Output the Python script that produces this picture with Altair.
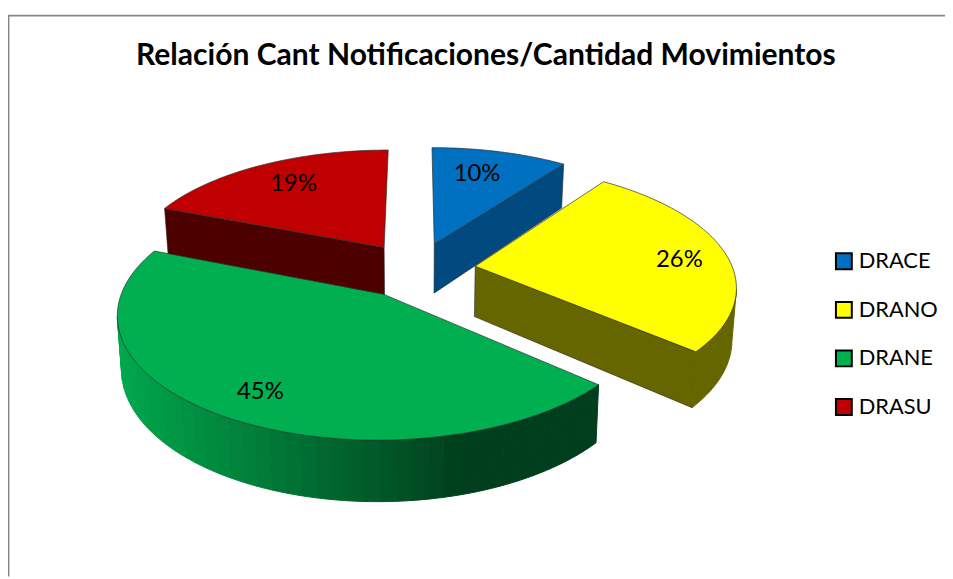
import math
import altair as alt

TITLE = "Relación Cant Notificaciones/Cantidad Movimientos"
names = ["DRACE", "DRANO", "DRANE", "DRASU"]
shares = [10.0, 26.45, 44.55, 19.0]
top_colors = ["#0070C0", "#FFFF00", "#00B050", "#C00000"]
wall_colors = ["#004A80", "#666600", "#00401F", "#4D0000"]
explode = [0.23, 0.23, 0.24, 0.23]
slice_radius = [1.0, 1.0, 0.985, 1.0]
label_radius = [0.73, 0.805, 0.80, 0.74]
label_turn = [-2.4, 2.6, -1.5, 1]
draw_order = [3, 0, 1, 2]

# 3-D pie model (unit circle on a tilted plane, with perspective)
R, S, C, DEPTH, TILT = 260.0, 119.0, 0.15, 51.0, 0.014
CX, CY = 412.0, 261.0
PROJ = dict(type="identity", scale=R, translate=[CX, CY])


def project(u, v, z=0.0):
    w = 1 - C * v
    return [u / w * (1 - TILT * z), (S / R) * v / w + z * (DEPTH / R) / w]


def polar(t, r=1.0):
    a = math.radians(t)
    return r * math.sin(a), -r * math.cos(a)


def feature(ring, **props):
    return {"type": "Feature", "properties": props,
            "geometry": {"type": "Polygon", "coordinates": [ring + [ring[0]]]}}


def shade(hex_color, f):
    rgb = [int(hex_color[i:i + 2], 16) for i in (1, 3, 5)]
    return "#%02x%02x%02x" % tuple(round(c * f) for c in rgb)


def green_wall(x):
    p = min(1.0, max(0.0, (x * R + CX + 8 - 120) / 340))
    return shade("#00B050", 0.95 - 0.59 * p)


bounds = []
acc = 0.0
total = sum(shares)
for s in shares:
    bounds.append((acc / total * 360, (acc + s) / total * 360))
    acc += s

layers = []
text_rows = []
for i in draw_order:
    t0, t1 = bounds[i]
    mid = (t0 + t1) / 2
    ox, oy = polar(mid, explode[i])
    rad = slice_radius[i]
    point = lambda t, z=0.0: project(ox + polar(t, rad)[0], oy + polar(t, rad)[1], z)
    apex, apex_b = project(ox, oy), project(ox, oy, 1)
    steps = max(4, int((t1 - t0) / 1.5))
    angles = [t0 + (t1 - t0) * k / steps for k in range(steps + 1)]
    walls = []
    inner = project(ox + polar(mid, .5)[0], oy + polar(mid, .5)[1])
    for edge in (t0, t1):
        b = point(edge)
        dx, dy = b[0] - apex[0], b[1] - apex[1]
        side = dx * (inner[1] - apex[1]) - dy * (inner[0] - apex[0])
        if abs(dx) > 0.03 and side * dx < 0:
            walls.append(feature([apex, b, point(edge, 1), apex_b],
                                 fill=wall_colors[i], line="#2b2b2b", sw=0.6))
    visible = [a for a in angles[:-1] if point(a + (t1 - t0) / steps)[0] < point(a)[0]]
    band = 2 if names[i] == "DRANE" else len(visible)
    for k in range(0, len(visible), max(band, 1)):
        run = visible[k:k + band + 1]
        if k + band >= len(visible):
            run = visible[k:] + [visible[-1] + (t1 - t0) / steps]
        if len(run) < 2:
            continue
        top = [point(a) for a in run]
        bot = [point(a, 1) for a in reversed(run)]
        xm = sum(p[0] for p in top) / len(top)
        col = green_wall(xm) if names[i] == "DRANE" else wall_colors[i]
        walls.append(feature(top + bot, fill=col, line=col, sw=1.0))
    if walls:
        layers.append(
            alt.Chart(alt.Data(values=walls)).mark_geoshape().encode(
                fill=alt.Fill("properties.fill:N", scale=None),
                stroke=alt.Stroke("properties.line:N", scale=None),
                strokeWidth=alt.StrokeWidth("properties.sw:Q", scale=None),
            ).project(**PROJ)
        )
    ring = [apex] + [point(a) for a in angles]
    layers.append(
        alt.Chart(alt.Data(values=[feature(ring, name=names[i])])).mark_geoshape(
            stroke="#303030", strokeWidth=0.7
        ).encode(
            color=alt.Color(
                "properties.name:N",
                scale=alt.Scale(domain=names, range=top_colors),
                legend=alt.Legend(
                    title=None, orient="none", legendX=832, legendY=242,
                    symbolType="square", symbolSize=256,
                    symbolStrokeColor="#000000", symbolStrokeWidth=2,
                    labelFont="Lato", labelFontSize=22, labelColor="#000000",
                    labelOffset=4, rowPadding=25, labelLimit=200,
                ),
            )
        ).project(**PROJ)
    )
    lx, ly = polar(mid + label_turn[i], label_radius[i])
    pos = project(ox + lx, oy + ly)
    text_rows.append({"lon": pos[0], "lat": pos[1], "label": f"{round(shares[i])}%"})

labels = alt.Chart(alt.Data(values=text_rows)).mark_text(
    font="Lato", fontSize=24, color="#000000", baseline="middle"
).encode(
    longitude="lon:Q", latitude="lat:Q", text="label:N"
).project(**PROJ)

frame_top = alt.Chart(alt.Data(values=[{"k": 0}])).mark_rule(color="#868686", strokeWidth=1.7).encode(
    x=alt.value(0), x2=alt.value(945), y=alt.value(5.3))
frame_left = alt.Chart(alt.Data(values=[{"k": 0}])).mark_rule(color="#868686", strokeWidth=1.7).encode(
    x=alt.value(0.6), y=alt.value(5), y2=alt.value(571))

chart = alt.layer(frame_top, frame_left, *layers, labels).properties(
    width=945, height=571, padding=0, background="#ffffff",
    autosize=alt.AutoSizeParams(type="none"),
    title=alt.TitleParams(TITLE, anchor="middle", frame="group", orient="top", dx=9.5,
                          offset=-85, font="Lato", fontSize=30.3, fontWeight="bold",
                          color="#000000", baseline="alphabetic"),
).configure_view(stroke=None)

chart.save("out.html", embed_options={"renderer": "svg", "actions": False})
